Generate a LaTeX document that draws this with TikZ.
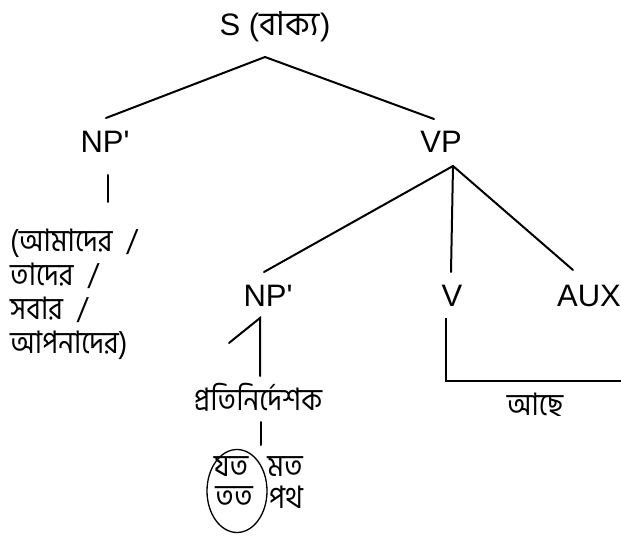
\documentclass[tikz,border=0pt]{standalone}
\usepackage{fontspec}
\setmainfont{Liberation Sans}
\newfontfamily\bnfont[Script=Bengali, FakeStretch=0.9]{Hind Siliguri}
\newfontfamily\bnwide[Script=Bengali]{Hind Siliguri}
\usetikzlibrary{shapes.geometric}
\tikzset{
  cat/.style={inner sep=0pt, font=\fontsize{31}{36}\selectfont},
  bn/.style={inner sep=0pt, font=\bnfont\fontsize{31}{34}\selectfont},
  branch/.style={line width=2pt, line cap=round},
  loop/.style={draw, ellipse, line width=1.3pt, inner sep=0pt,
               minimum width=60pt, minimum height=83pt}
}
\begin{document}
\begin{tikzpicture}[x=1pt, y=-1pt]
  \useasboundingbox[fill=white] (0,0) rectangle (621,537);

  % category labels
  \node[cat] (s)   at (275,27)  {S ({\bnwide\fontsize{33}{36}\selectfont বাক্য})};
  \node[cat] (np1) at (105,142) {NP\textquotesingle};
  \node[cat] (vp)  at (441,142) {VP};
  \node[cat] (np2) at (268,296) {NP\textquotesingle};
  \node[cat] (v)   at (452,296) {V};
  \node[cat] (aux) at (589,296) {AUX};

  % words
  \node[bn, anchor=west, align=left] (pron) at (10,294)
    {(আমাদের\hspace{0.45em}/\\তাদের\hspace{0.45em}/\\সবার\hspace{0.45em}/\\আপনাদের)};
  \node[bn] (anaph) at (258,397) {প্রতিনির্দেশক};
  \node[bn] (ache)  at (535,405) {আছে};
  \node[loop] (ring) at (237,491) {};
  \node[bn] (jata) at (231,467) {যত};
  \node[bn] (tata) at (234,497) {তত};
  \node[bn] (mata) at (285,467) {মত};
  \node[bn] (path) at (286,497) {পথ};

  % branch points and ends
  \coordinate (s-fork)   at (265,57);
  \coordinate (np1-top)  at (106,118);
  \coordinate (vp-top)   at (434,119);
  \coordinate (np1-a)    at (108,175);
  \coordinate (np1-b)    at (108,202);
  \coordinate (vp-fork)  at (453,166);
  \coordinate (np2-top)  at (264,272);
  \coordinate (v-top)    at (451,272);
  \coordinate (aux-top)  at (573,270);
  \coordinate (np2-fork) at (260,318);
  \coordinate (np2-left) at (229,343);
  \coordinate (anaph-top) at (260,376);
  \coordinate (anaph-a)  at (261,422);
  \coordinate (anaph-b)  at (261,445);
  \coordinate (v-stem)   at (446,318);
  \coordinate (v-end)    at (621,381);

  \draw[branch] (np1-top) -- (s-fork) -- (vp-top);
  \draw[branch] (np1-a) -- (np1-b);
  \draw[branch] (np2-top) -- (vp-fork) -- (aux-top);
  \draw[branch] (vp-fork) -- (v-top);
  \draw[branch] (np2-left) -- (np2-fork) -- (anaph-top);
  \draw[branch] (anaph-a) -- (anaph-b);
  \draw[branch, line cap=butt] (v-stem) |- (v-end);
\end{tikzpicture}
\end{document}
